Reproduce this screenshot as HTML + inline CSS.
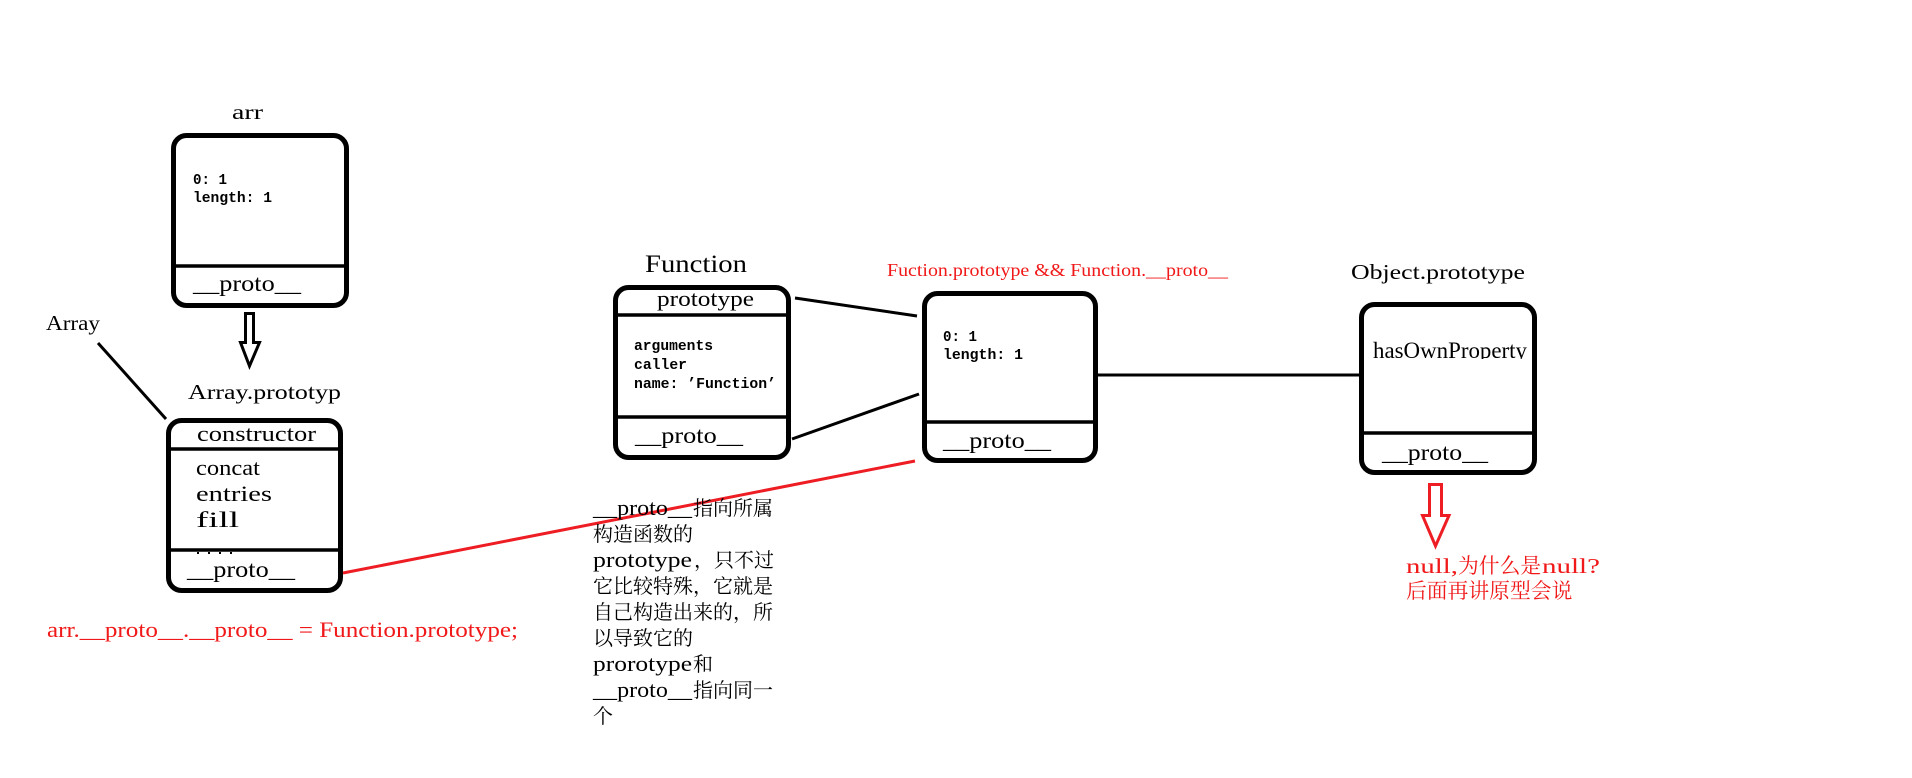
<!DOCTYPE html>
<html>
<head>
<meta charset="utf-8">
<style>
  html,body{margin:0;padding:0;background:#fff;}
  body{width:1912px;height:778px;overflow:hidden;}
  svg{display:block;}
  .m{font-family:"Liberation Mono","DejaVu Sans Mono",monospace;fill:#000;}
  .s{font-family:"Liberation Serif","DejaVu Serif",serif;fill:#000;}
  .b{font-weight:bold;}
  .cjk{font-family:"Noto Serif CJK SC","Noto Sans CJK SC","WenQuanYi Zen Hei",serif;fill:#000;}
  .red{fill:#f01818;}
</style>
</head>
<body>
<svg width="1912" height="778" viewBox="0 0 1912 778" xmlns="http://www.w3.org/2000/svg">
  <defs>
    <clipPath id="clipHas"><rect x="1365" y="330" width="170" height="29"/></clipPath>
  </defs>
  <rect x="0" y="0" width="1912" height="778" fill="#fff"/>

  <!-- ===== arr box ===== -->
  <text class="s" x="232" y="119" font-size="21" textLength="31" lengthAdjust="spacingAndGlyphs">arr</text>
  <rect x="173.5" y="135.5" width="173" height="170" rx="13" ry="13" fill="none" stroke="#000" stroke-width="5"/>
  <line x1="172" y1="266" x2="348" y2="266" stroke="#000" stroke-width="3.5"/>
  <text class="m b" x="193" y="184" font-size="15" textLength="34" lengthAdjust="spacingAndGlyphs">0: 1</text>
  <text class="m b" x="193" y="202" font-size="15" textLength="79" lengthAdjust="spacingAndGlyphs">length: 1</text>
  <text class="s" x="193" y="291" font-size="23" textLength="108" lengthAdjust="spacingAndGlyphs">__proto__</text>

  <!-- hollow arrow down -->
  <polygon points="245.5,313.5 253.5,313.5 253.5,342.5 259.5,342.5 249.5,366 240.5,342.5 245.5,342.5" fill="#fff" stroke="#000" stroke-width="3" stroke-linejoin="miter"/>

  <!-- ===== Array label + line ===== -->
  <text class="s" x="46" y="330" font-size="21" textLength="54" lengthAdjust="spacingAndGlyphs">Array</text>
  <line x1="98" y1="343" x2="166" y2="419" stroke="#000" stroke-width="3"/>

  <!-- ===== Array.prototype box ===== -->
  <text class="s" x="188" y="399" font-size="21" textLength="153" lengthAdjust="spacingAndGlyphs">Array.prototyp</text>
  <rect x="168.5" y="420.5" width="172" height="170" rx="13" ry="13" fill="none" stroke="#000" stroke-width="5"/>
  <line x1="167" y1="449" x2="342" y2="449" stroke="#000" stroke-width="3.5"/>
  <text class="s" x="197" y="441" font-size="22" textLength="119" lengthAdjust="spacingAndGlyphs">constructor</text>
  <text class="s" x="196" y="475" font-size="22" textLength="64" lengthAdjust="spacingAndGlyphs">concat</text>
  <text class="s" x="196" y="501" font-size="22" textLength="76" lengthAdjust="spacingAndGlyphs">entries</text>
  <text class="s" x="196" y="527" font-size="22" textLength="43" lengthAdjust="spacingAndGlyphs">fill</text>
  <!-- partially hidden dots -->
  <rect x="197" y="552" width="2" height="2" fill="#000"/>
  <rect x="208" y="552" width="2" height="2" fill="#000"/>
  <rect x="219" y="552" width="2" height="2" fill="#000"/>
  <rect x="230" y="552" width="2" height="2" fill="#000"/>
  <line x1="167" y1="550" x2="342" y2="550" stroke="#000" stroke-width="3.5"/>
  <text class="s" x="187" y="577" font-size="23" textLength="108" lengthAdjust="spacingAndGlyphs">__proto__</text>

  <!-- red bottom-left text -->
  <text class="s red" x="47" y="637" font-size="22" textLength="471" lengthAdjust="spacingAndGlyphs">arr.__proto__.__proto__ = Function.prototype;</text>

  <!-- red line from Array.prototype __proto__ to middle box -->
  <line x1="343" y1="573" x2="915" y2="461" stroke="#ee1d23" stroke-width="3"/>

  <!-- ===== Function box ===== -->
  <text class="s" x="645" y="272" font-size="25" textLength="102" lengthAdjust="spacingAndGlyphs">Function</text>
  <rect x="615.5" y="287.5" width="173" height="170" rx="13" ry="13" fill="none" stroke="#000" stroke-width="5"/>
  <line x1="614" y1="315" x2="790" y2="315" stroke="#000" stroke-width="3.5"/>
  <line x1="614" y1="417" x2="790" y2="417" stroke="#000" stroke-width="3.5"/>
  <text class="s" x="657" y="306" font-size="22" textLength="97" lengthAdjust="spacingAndGlyphs">prototype</text>
  <text class="m b" x="634" y="350" font-size="15" textLength="79" lengthAdjust="spacingAndGlyphs">arguments</text>
  <text class="m b" x="634" y="369" font-size="15" textLength="53" lengthAdjust="spacingAndGlyphs">caller</text>
  <text class="m b" x="634" y="388" font-size="15" textLength="142" lengthAdjust="spacingAndGlyphs">name: ’Function’</text>
  <text class="s" x="635" y="443" font-size="23" textLength="108" lengthAdjust="spacingAndGlyphs">__proto__</text>

  <!-- connectors Function -> middle -->
  <line x1="795" y1="298" x2="917" y2="316" stroke="#000" stroke-width="3"/>
  <line x1="792" y1="439" x2="919" y2="394" stroke="#000" stroke-width="3"/>

  <!-- ===== Middle box ===== -->
  <text class="s red" x="887" y="276" font-size="18" textLength="341" lengthAdjust="spacingAndGlyphs">Fuction.prototype &amp;&amp; Function.__proto__</text>
  <rect x="924.5" y="293.5" width="171" height="167" rx="13" ry="13" fill="none" stroke="#000" stroke-width="5"/>
  <line x1="923" y1="422" x2="1097" y2="422" stroke="#000" stroke-width="3.5"/>
  <text class="m b" x="943" y="341" font-size="15" textLength="34" lengthAdjust="spacingAndGlyphs">0: 1</text>
  <text class="m b" x="943" y="359" font-size="15" textLength="80" lengthAdjust="spacingAndGlyphs">length: 1</text>
  <text class="s" x="943" y="448" font-size="23" textLength="108" lengthAdjust="spacingAndGlyphs">__proto__</text>

  <!-- middle -> Object line -->
  <line x1="1098" y1="375" x2="1359" y2="375" stroke="#000" stroke-width="3"/>

  <!-- ===== Object.prototype box ===== -->
  <text class="s" x="1351" y="279" font-size="21" textLength="174" lengthAdjust="spacingAndGlyphs">Object.prototype</text>
  <rect x="1361.5" y="304.5" width="173" height="168" rx="13" ry="13" fill="none" stroke="#000" stroke-width="5"/>
  <line x1="1360" y1="433" x2="1536" y2="433" stroke="#000" stroke-width="3.5"/>
  <g clip-path="url(#clipHas)">
    <text class="s" x="1373" y="358" font-size="23" textLength="154" lengthAdjust="spacingAndGlyphs">hasOwnProperty</text>
  </g>
  <text class="s" x="1382" y="460" font-size="23" textLength="106" lengthAdjust="spacingAndGlyphs">__proto__</text>

  <!-- red hollow arrow -->
  <polygon points="1429.5,484.5 1441.5,484.5 1441.5,515.5 1449,515.5 1435.5,546 1422.5,515.5 1429.5,515.5" fill="#fff" stroke="#ee1d23" stroke-width="3" stroke-linejoin="miter"/>

  <!-- red null text -->
  <text class="s red" x="1406" y="573" font-size="21" textLength="52" lengthAdjust="spacingAndGlyphs">null,</text>
  <text class="cjk red" x="1458" y="573" font-size="20.8">为什么是</text>
  <text class="s red" x="1542" y="573" font-size="21" textLength="58" lengthAdjust="spacingAndGlyphs">null?</text>
  <text class="cjk red" x="1406" y="598" font-size="20.8">后面再讲原型会说</text>

  <!-- ===== Chinese explanation block ===== -->
  <text class="s" x="593" y="515" font-size="22" textLength="99" lengthAdjust="spacingAndGlyphs">__proto__</text>
  <text class="cjk" x="693" y="515" font-size="20">指向所属</text>

  <text class="cjk" x="593" y="541" font-size="20">构造函数的</text>

  <text class="s" x="593" y="567" font-size="22" textLength="99" lengthAdjust="spacingAndGlyphs">prototype</text>
  <text class="cjk" x="694" y="567" font-size="20">，只不过</text>

  <text class="cjk" x="593" y="593" font-size="20">它比较特殊，它就是</text>

  <text class="cjk" x="593" y="619" font-size="20">自己构造出来的，所</text>

  <text class="cjk" x="593" y="645" font-size="20">以导致它的</text>

  <text class="s" x="593" y="671" font-size="22" textLength="99" lengthAdjust="spacingAndGlyphs">prorotype</text>
  <text class="cjk" x="693" y="671" font-size="20">和</text>

  <text class="s" x="593" y="697" font-size="22" textLength="99" lengthAdjust="spacingAndGlyphs">__proto__</text>
  <text class="cjk" x="693" y="697" font-size="20">指向同一</text>

  <text class="cjk" x="593" y="723" font-size="20">个</text>
</svg>
</body>
</html>
